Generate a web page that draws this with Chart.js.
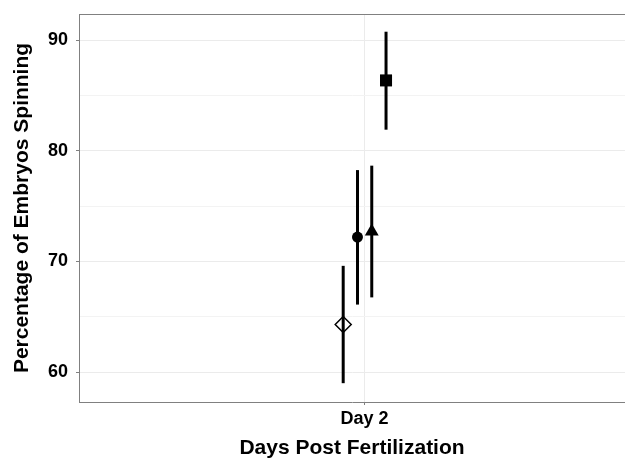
<!DOCTYPE html>
<html>
<head>
<meta charset="utf-8">
<script src="https://cdn.jsdelivr.net/npm/chart.js@4/dist/chart.umd.min.js"></script>
<style>
  html, body { margin: 0; padding: 0; background: #ffffff; overflow: hidden; }
  #wrap { width: 625px; height: 459px; }
</style>
</head>
<body>
<div id="wrap"><canvas id="c" width="625" height="459"></canvas></div>
<script>
// ---- data ----
const categories = ['Day 2'];
const categoryValues = [2];
const groups = ['Group 1', 'Group 2', 'Group 3', 'Group 4'];
const means = [64.3, 72.2, 72.7, 86.35];
const lower = [59.0, 66.1, 66.75, 81.9];
const upper = [69.6, 78.25, 78.65, 90.75];
const yTicks = [60, 65, 70, 75, 80, 85, 90];
const yLabelTicks = [60, 70, 80, 90];

// ---- styles ----
const markerStyles = [
  { pointStyle: 'rectRot', radius: 8, fill: 'rgba(0,0,0,0)', borderWidth: 1.5 },
  { pointStyle: 'circle', radius: 5.5, fill: '#000000', borderWidth: 0 },
  { pointStyle: 'triangle', radius: 8, fill: '#000000', borderWidth: 0 },
  { pointStyle: 'rect', radius: 8.5, fill: '#000000', borderWidth: 0 }
];
const dodgeWidth = 0.12;
const axisColor = '#808080';
const gridColor = '#ebebeb';
const minorGridColor = '#f3f3f3';
const fontFamily = '"Liberation Sans", Arial, Helvetica, sans-serif';

function dodged(i) {
  const n = groups.length;
  return categoryValues[0] + (i - (n - 1) / 2) * (dodgeWidth / n);
}

const datasets = [];
groups.forEach((g, i) => {
  datasets.push({
    type: 'line',
    label: g + ' error',
    data: [{ x: dodged(i), y: lower[i] }, { x: dodged(i), y: upper[i] }],
    borderColor: '#000000',
    borderWidth: 3,
    pointRadius: 0,
    fill: false,
    order: 1
  });
  const m = markerStyles[i];
  datasets.push({
    type: 'scatter',
    label: g,
    data: [{ x: dodged(i), y: means[i] }],
    pointStyle: m.pointStyle,
    pointRadius: m.radius,
    pointHoverRadius: m.radius,
    pointBackgroundColor: m.fill,
    pointBorderColor: '#000000',
    pointBorderWidth: m.borderWidth,
    order: 0
  });
});

const topBorder = {
  id: 'topBorder',
  afterDraw(chart) {
    const { ctx, chartArea } = chart;
    ctx.save();
    ctx.strokeStyle = axisColor;
    ctx.lineWidth = 1;
    ctx.beginPath();
    ctx.moveTo(chartArea.left, chartArea.top + 0.5);
    ctx.lineTo(chartArea.right, chartArea.top + 0.5);
    ctx.stroke();
    ctx.restore();
  }
};

function zeroPadding(scale) {
  scale.paddingTop = 0;
  scale.paddingBottom = 0;
  scale.paddingLeft = 0;
  scale.paddingRight = 0;
}

new Chart(document.getElementById('c'), {
  data: { datasets },
  plugins: [topBorder],
  options: {
    responsive: false,
    animation: false,
    devicePixelRatio: 1,
    layout: { autoPadding: false, padding: { top: 14, left: 0, right: 0, bottom: 0 } },
    plugins: { legend: { display: false }, tooltip: { enabled: false } },
    scales: {
      x: {
        type: 'linear',
        min: 1.4,
        max: 2.547,
        afterBuildTicks: (scale) => { scale.ticks = categoryValues.map(v => ({ value: v })); },
        afterFit: (scale) => { scale.height = 57; zeroPadding(scale); },
        ticks: {
          callback: (v) => { const k = categoryValues.indexOf(v); return k >= 0 ? categories[k] : ''; },
          color: '#000000',
          font: { family: fontFamily, size: 18, weight: 'bold' },
          padding: 3,
          maxRotation: 0
        },
        grid: { color: gridColor, tickLength: 3, tickColor: axisColor, lineWidth: 1 },
        border: { color: axisColor, width: 1 },
        title: {
          display: true,
          text: 'Days Post Fertilization',
          color: '#000000',
          font: { family: fontFamily, size: 21, weight: 'bold', lineHeight: 1 },
          padding: { top: 0, bottom: 0 }
        }
      },
      y: {
        type: 'linear',
        min: 57.3,
        max: 92.35,
        afterBuildTicks: (scale) => { scale.ticks = yTicks.map(v => ({ value: v })); },
        afterFit: (scale) => { scale.width = 79; zeroPadding(scale); },
        ticks: {
          callback: (v) => (yLabelTicks.includes(v) ? String(v) : ''),
          color: '#000000',
          font: { family: fontFamily, size: 18, weight: 'bold' },
          padding: 8
        },
        grid: {
          color: (ctx) => (ctx.tick && yLabelTicks.includes(ctx.tick.value) ? gridColor : minorGridColor),
          tickColor: (ctx) => (ctx.tick && yLabelTicks.includes(ctx.tick.value) ? axisColor : 'rgba(0,0,0,0)'),
          tickLength: 3,
          lineWidth: 1
        },
        border: { color: axisColor, width: 1 },
        title: {
          display: true,
          text: 'Percentage of Embryos Spinning',
          color: '#000000',
          font: { family: fontFamily, size: 21, weight: 'bold', lineHeight: 1 },
          padding: { top: 12, bottom: 0 }
        }
      }
    }
  }
});
</script>
</body>
</html>
